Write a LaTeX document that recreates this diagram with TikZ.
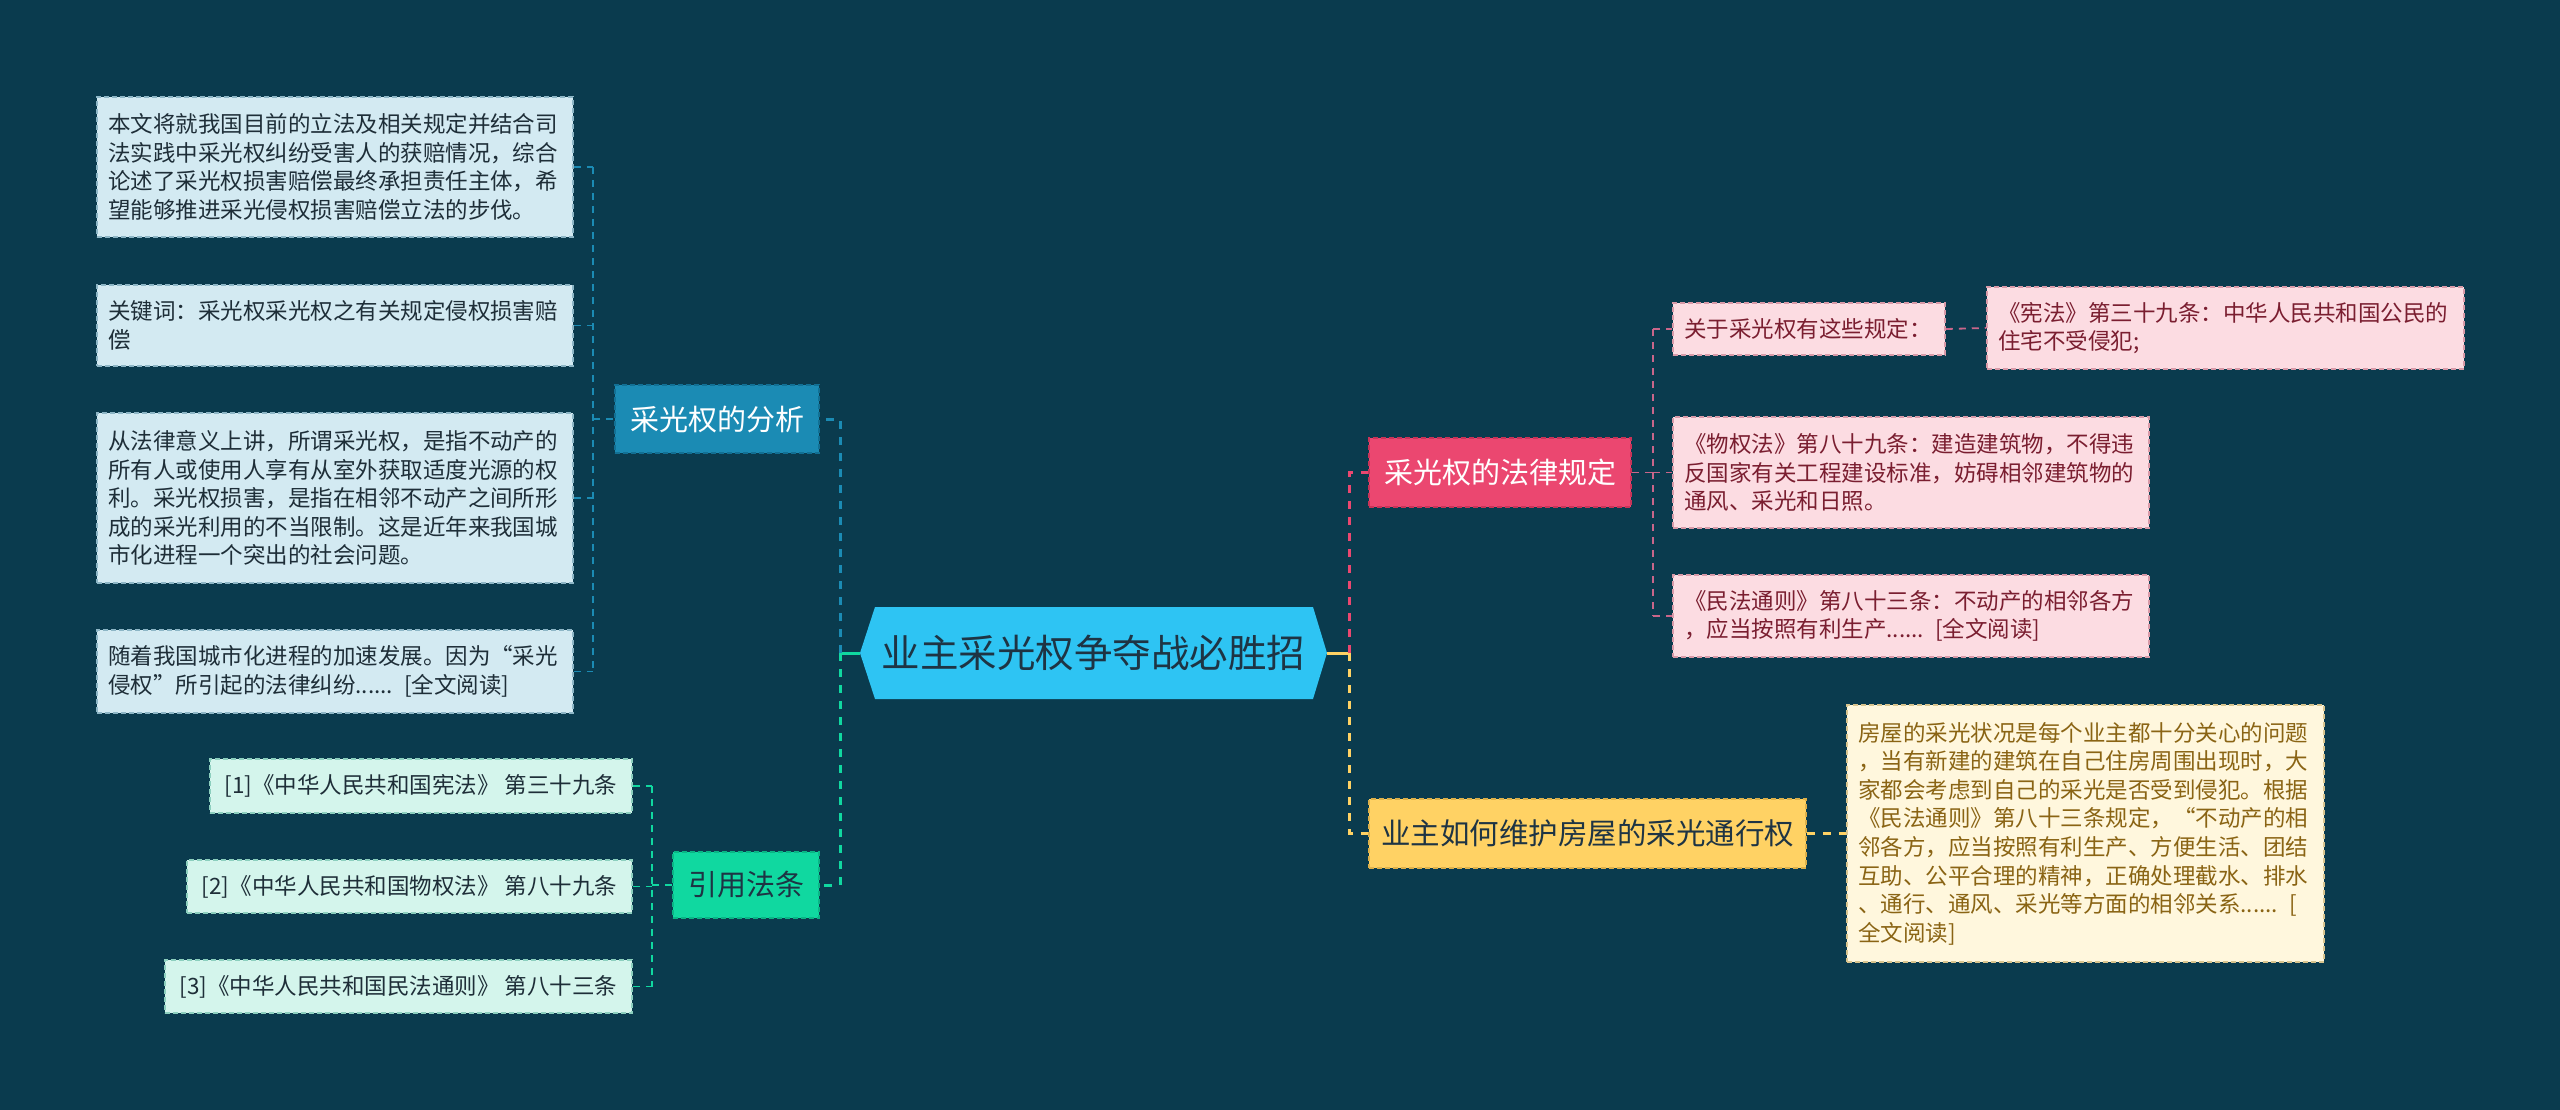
\documentclass[tikz,border=0pt]{standalone}
\usepackage{fontspec}
\setmainfont{Noto Sans CJK SC}
\definecolor{bg}{HTML}{0A3B4E}
\definecolor{leafAf}{HTML}{D3EAF2}
\definecolor{leafAb}{HTML}{8DB6C6}
\definecolor{leafAt}{HTML}{1E2E38}
\definecolor{blueB}{HTML}{1B8BB4}
\definecolor{blueBb}{HTML}{127094}
\definecolor{greenB}{HTML}{10D8A0}
\definecolor{greenBb}{HTML}{0AB585}
\definecolor{mintf}{HTML}{D4F5EC}
\definecolor{mintb}{HTML}{8CCFBE}
\definecolor{pinkB}{HTML}{EB4770}
\definecolor{pinkBb}{HTML}{C93358}
\definecolor{pinkf}{HTML}{FCDCE2}
\definecolor{pinkb}{HTML}{D89AA8}
\definecolor{pinkt}{HTML}{7A1E30}
\definecolor{pinkc}{HTML}{C9668A}
\definecolor{yellowB}{HTML}{FFD264}
\definecolor{yellowBb}{HTML}{DDB04A}
\definecolor{yellowf}{HTML}{FFF7DD}
\definecolor{yellowb}{HTML}{D8C48E}
\definecolor{yellowt}{HTML}{8A6414}
\definecolor{centerc}{HTML}{2EC4F3}
\definecolor{centert}{HTML}{1E3444}
\begin{document}
\begin{tikzpicture}[x=1pt,y=-1pt,
  leafbox/.style={font=\fontsize{22.5}{28.6}\selectfont, align=left, inner xsep=11pt, inner ysep=0pt, dash pattern=on 5pt off 3pt, line width=1.5pt},
  lfA/.style={leafbox, draw=leafAb, fill=leafAf, text=leafAt},
  lfM/.style={leafbox, draw=mintb, fill=mintf, text=leafAt, align=center},
  lfP/.style={leafbox, draw=pinkb, fill=pinkf, text=pinkt},
  lfY/.style={leafbox, draw=yellowb, fill=yellowf, text=yellowt},
  branchbox/.style={font=\fontsize{29}{34}\selectfont, inner sep=0pt, dash pattern=on 5pt off 3pt, line width=1.5pt, minimum height=68},
  conn/.style={line width=3pt, dash pattern=on 8pt off 8pt},
  thinconn/.style={line width=1.8pt, dash pattern=on 7pt off 6pt}
]
\useasboundingbox (0,0) rectangle (2560,1110);
\fill[bg] (0,0) rectangle (2560,1110);

% center topic
\fill[centerc] (860,653) -- (875,607) -- (1313,607) -- (1327,653) -- (1313,699) -- (875,699) -- cycle;
\node[font=\fontsize{38.5}{44}\selectfont, text=centert, inner sep=0pt, minimum width=467, minimum height=92] (ct) at (1093.5,653) {业主采光权争夺战必胜招};

% left branches
\node[branchbox, draw=blueBb, fill=blueB, text=white, minimum width=204] (b1) at (717,419) {采光权的分析};
\node[branchbox, draw=greenBb, fill=greenB, text=centert, minimum width=146, minimum height=66] (b2) at (746,885) {引用法条};

% right branches
\node[branchbox, draw=pinkBb, fill=pinkB, text=white, minimum width=262, minimum height=69] (r1) at (1500,472.5) {采光权的法律规定};
\node[branchbox, draw=yellowBb, fill=yellowB, text=centert, minimum width=437, minimum height=69, font=\fontsize{29.5}{35}\selectfont] (r2) at (1587.5,833.5) {业主如何维护房屋的采光通行权};

% left leaves of b1
\node[lfA, minimum width=476, minimum height=140, text width=454] (a1) at (335,167) {本文将就我国目前的立法及相关规定并结合司\\法实践中采光权纠纷受害人的获赔情况，综合\\论述了采光权损害赔偿最终承担责任主体，希\\望能够推进采光侵权损害赔偿立法的步伐。};
\node[lfA, minimum width=476, minimum height=81, text width=454] (a2) at (335,325.5) {关键词：采光权采光权之有关规定侵权损害赔\\偿};
\node[lfA, minimum width=476, minimum height=170, text width=454] (a3) at (335,498) {从法律意义上讲，所谓采光权，是指不动产的\\所有人或使用人享有从室外获取适度光源的权\\利。采光权损害，是指在相邻不动产之间所形\\成的采光利用的不当限制。这是近年来我国城\\市化进程一个突出的社会问题。};
\node[lfA, minimum width=476, minimum height=83, text width=454] (a4) at (335,671.5) {随着我国城市化进程的加速发展。因为“采光\\侵权”所引起的法律纠纷...... [全文阅读]};

% citation leaves
\node[lfM, minimum width=422, minimum height=54] (c1) at (421,786) {[1]《中华人民共和国宪法》 第三十九条};
\node[lfM, minimum width=445, minimum height=53] (c2) at (409.5,886.5) {[2]《中华人民共和国物权法》 第八十九条};
\node[lfM, minimum width=467, minimum height=53] (c3) at (398.5,986.5) {[3]《中华人民共和国民法通则》 第八十三条};

% pink leaves
\node[lfP, minimum width=272, minimum height=52, text width=250] (p1) at (1809,329) {关于采光权有这些规定：};
\node[lfP, minimum width=477, minimum height=82, text width=455] (p1a) at (2225.5,328) {《宪法》第三十九条：中华人民共和国公民的\\住宅不受侵犯;};
\node[lfP, minimum width=476, minimum height=111, text width=454] (p2) at (1911,472.5) {《物权法》第八十九条：建造建筑物，不得违\\反国家有关工程建设标准，妨碍相邻建筑物的\\通风、采光和日照。};
\node[lfP, minimum width=476, minimum height=82, text width=454] (p3) at (1911,616) {《民法通则》第八十三条：不动产的相邻各方\\，应当按照有利生产...... [全文阅读]};

% yellow leaf
\node[lfY, minimum width=477, minimum height=257, text width=455] (y1) at (2085.5,833.5) {房屋的采光状况是每个业主都十分关心的问题\\，当有新建的建筑在自己住房周围出现时，大\\家都会考虑到自己的采光是否受到侵犯。根据\\《民法通则》第八十三条规定，“不动产的相\\邻各方，应当按照有利生产、方便生活、团结\\互助、公平合理的精神，正确处理截水、排水\\、通行、通风、采光等方面的相邻关系...... [\\全文阅读]};

% ---- connectors ----
\coordinate (cl) at (840,653);
\coordinate (cr) at (1349,653);
\coordinate (bl) at (593,419);
\coordinate (gl) at (652,885);
\coordinate (pr) at (1653,472.5);

\draw[greenB, line width=3pt] (cl) -- (ct.west);
\draw[conn, blueB] (cl) -- (cl |- b1.east) -- (b1.east);
\draw[conn, greenB] (cl) -- (cl |- b2.east) -- (b2.east);

\draw[yellowB, line width=3pt] (ct.east) -- (cr);
\draw[conn, pinkB] (cr) -- (cr |- r1.west) -- (r1.west);
\draw[conn, yellowB] (cr) -- (cr |- r2.west) -- (r2.west);

% b1 leaves
\draw[thinconn, blueB] (bl) -- (b1.west);
\draw[thinconn, blueB] (a1.east -| bl) -- (a4.east -| bl);
\draw[thinconn, blueB] (a1.east) -- (a1.east -| bl);
\draw[thinconn, blueB] (a2.east) -- (a2.east -| bl);
\draw[thinconn, blueB] (a3.east) -- (a3.east -| bl);
\draw[thinconn, blueB] (a4.east) -- (a4.east -| bl);

% b2 leaves
\draw[thinconn, greenB] (gl) -- (b2.west);
\draw[thinconn, greenB] (c1.east -| gl) -- (c3.east -| gl);
\draw[thinconn, greenB] (c1.east) -- (c1.east -| gl);
\draw[thinconn, greenB] (c2.east) -- (c2.east -| gl);
\draw[thinconn, greenB] (c3.east) -- (c3.east -| gl);

% r1 leaves
\draw[thinconn, pinkc] (r1.east) -- (pr);
\draw[thinconn, pinkc] (p1.west -| pr) -- (p3.west -| pr);
\draw[thinconn, pinkc] (pr |- p1.west) -- (p1.west);
\draw[thinconn, pinkc] (pr) -- (p2.west);
\draw[thinconn, pinkc] (pr |- p3.west) -- (p3.west);
\draw[thinconn, pinkc] (p1.east) -- (p1a.west);

% r2 leaf
\draw[conn, yellowB] (r2.east) -- (y1.west);
\end{tikzpicture}
\end{document}
